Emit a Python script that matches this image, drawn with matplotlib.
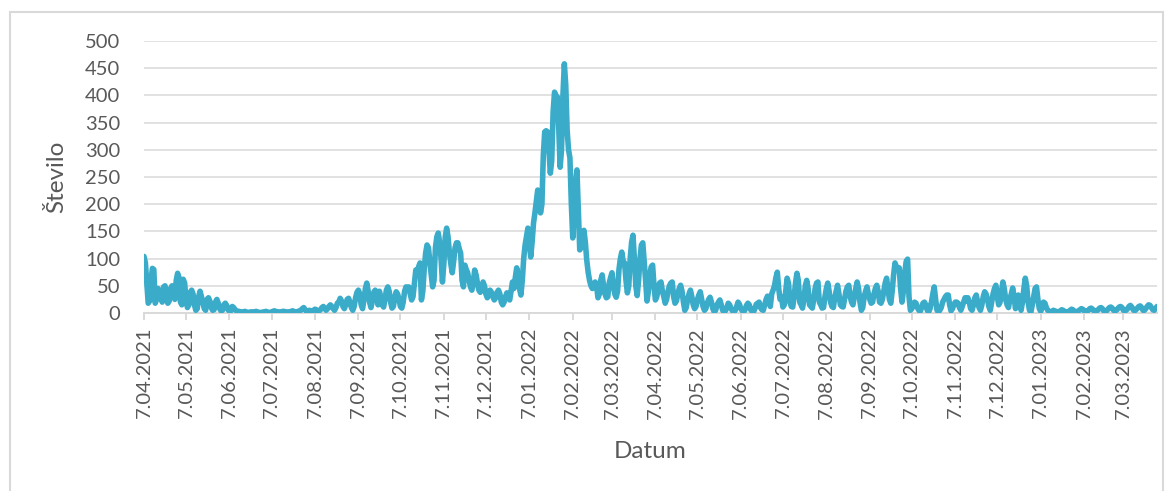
import pandas as pd
import matplotlib
matplotlib.use("Agg")
import matplotlib.pyplot as plt
from matplotlib.patches import Rectangle

# daily counts, first day 7.04.2021
spring_2021 = [
    104, 92, 55, 18, 22, 60, 82,
    80, 18, 25, 45, 38, 30, 20,
    48, 50, 35, 18, 22, 45, 50,
    40, 25, 60, 73, 65, 20, 15,
    62, 55, 25, 10, 15, 38, 42,
    35, 15, 5, 8, 30, 40, 30,
    20, 8, 5, 25, 28, 22, 10,
    5, 6, 20, 25, 18, 8, 4,
    5, 15, 18, 14, 6, 3, 4,
]
summer_2021 = [
    12, 10, 6, 4, 3, 3, 2,
    2, 2, 3, 2, 1, 1, 2,
    2, 1, 2, 3, 2, 1, 1,
    1, 2, 2, 3, 2, 1, 1,
    2, 3, 4, 3, 2, 1, 2,
    2, 3, 3, 2, 2, 1, 2,
    3, 4, 3, 2, 2, 3, 4,
    5, 8, 10, 6, 3, 3, 5,
    4, 3, 5, 7, 6, 3, 4,
]
autumn_2021 = [
    6, 10, 12, 8, 5, 8, 12,
    15, 12, 8, 5, 10, 18, 20,
    27, 22, 12, 8, 15, 25, 27,
    20, 10, 5, 12, 28, 38, 42,
    35, 15, 8, 25, 45, 55, 40,
    20, 10, 22, 38, 42, 35, 15,
    40, 30, 15, 11, 25, 42, 48,
    40, 20, 9, 12, 30, 39, 35,
    25, 12, 9, 20, 40, 48, 45,
    48, 35, 24, 30, 55, 79, 70,
    85, 92, 24, 40, 80, 110, 125,
    120, 95, 70, 48, 60, 120, 140,
    147, 130, 100, 57, 90, 140, 156,
    140, 110, 90, 74, 95, 120, 129,
    129, 118, 110, 60, 48, 88, 80,
    74, 60, 48, 42, 55, 79, 70,
    55, 42, 38, 45, 57, 50, 35,
    28, 32, 42, 38, 30, 24, 28,
    38, 42, 35, 20, 15, 20, 30,
]
winter_2022 = [
    37, 30, 24, 40, 57, 45, 65,
    83, 70, 45, 33, 60, 100, 125,
    140, 156, 130, 103, 130, 165, 184,
    205, 226, 215, 184, 200, 290, 333,
    335, 333, 300, 257, 280, 370, 406,
    400, 397, 340, 268, 300, 400, 458,
    420, 336, 300, 285, 200, 138, 180,
    240, 263, 190, 116, 120, 140, 152,
    130, 97, 75, 60, 50, 45, 52,
    57, 50, 28, 35, 60, 70, 50,
    35, 28, 30, 55, 65, 74, 50,
    35, 29, 40, 80, 100, 112, 95,
    92, 60, 37, 50, 100, 130, 143,
    100, 50, 32, 60, 100, 125, 129,
    95, 60, 22, 40, 70, 85, 88,
]
spring_2022 = [
    50, 24, 30, 45, 55, 57, 40,
    30, 18, 25, 40, 50, 55, 57,
    30, 18, 22, 35, 45, 51, 40,
    20, 5, 10, 25, 35, 42, 30,
    15, 8, 12, 25, 33, 39, 25,
    12, 5, 8, 18, 25, 29, 20,
    8, 2, 5, 15, 20, 24, 15,
    5, 2, 4, 10, 18, 15, 8,
    4, 2, 5, 12, 20, 16, 8,
    4, 2, 6, 14, 18, 15, 6,
    3, 2, 8, 16, 18, 20, 10,
    6, 5, 15, 25, 31, 28, 12,
]
summer_2022 = [
    35, 42, 50, 65, 75, 45, 25,
    30, 11, 15, 40, 64, 55, 20,
    12, 11, 30, 55, 73, 60, 20,
    15, 9, 25, 50, 60, 45, 15,
    12, 9, 25, 45, 55, 57, 20,
    15, 9, 10, 30, 45, 55, 40,
    20, 12, 10, 28, 40, 51, 35,
    15, 12, 11, 25, 40, 48, 51,
    30, 20, 15, 30, 45, 57, 45,
    20, 5, 10, 30, 40, 48, 35,
    25, 18, 20, 35, 45, 51, 40,
    20, 18, 25, 40, 55, 64, 45,
    25, 18, 40, 70, 92, 85, 83,
    83, 45, 20, 40, 75, 95, 99,
    30, 5, 8, 15, 20, 18, 10,
    5, 3, 10, 18, 20, 15, 5,
]
autumn_2022 = [
    2, 8, 20, 35, 48, 25, 5,
    2, 5, 10, 20, 25, 30, 33,
    33, 15, 4, 8, 15, 20, 20,
    18, 10, 5, 12, 20, 28, 22,
    28, 20, 8, 5, 15, 28, 33,
    20, 10, 5, 15, 30, 39, 35,
    25, 12, 5, 20, 35, 45, 51,
    30, 15, 20, 40, 57, 45, 25,
    15, 10, 25, 35, 46, 30, 8,
    20, 33, 20, 5, 20, 45, 64,
    50, 20, 5, 2, 15, 30, 45,
    48, 25, 8, 3, 10, 20, 18,
]
winter_2023 = [
    10, 5, 3, 2, 3, 5, 4,
    3, 2, 2, 4, 6, 5, 3,
    2, 2, 3, 5, 7, 6, 3,
    2, 3, 4, 6, 8, 7, 4,
    3, 3, 5, 8, 9, 7, 4,
    3, 4, 6, 9, 10, 8, 4,
    3, 4, 7, 10, 11, 9, 5,
    4, 5, 8, 11, 12, 10, 5,
    4, 5, 8, 12, 14, 11, 6,
    4, 6, 9, 12, 13, 10, 5,
    5, 8, 12, 15, 14, 10, 6,
    5, 8, 12,
]

tick_labels = [
    "7.04.2021", "7.05.2021", "7.06.2021", "7.07.2021", "7.08.2021",
    "7.09.2021", "7.10.2021", "7.11.2021", "7.12.2021", "7.01.2022",
    "7.02.2022", "7.03.2022", "7.04.2022", "7.05.2022", "7.06.2022",
    "7.07.2022", "7.08.2022", "7.09.2022", "7.10.2022", "7.11.2022",
    "7.12.2022", "7.01.2023", "7.02.2023", "7.03.2023",
]

values = (spring_2021 + summer_2021 + autumn_2021 + winter_2022
          + spring_2022 + summer_2022 + autumn_2022 + winter_2023)
dates = pd.date_range("2021-04-07", periods=len(values), freq="D")
tick_dates = pd.to_datetime(tick_labels, format="%d.%m.%Y")

plt.rcParams["font.family"] = ["Lato", "DejaVu Sans"]
grey = "#595959"

fig = plt.figure(figsize=(11.73, 4.91), dpi=100)
W, H = 1173, 491
ax = fig.add_axes([144 / W, 1 - 313 / H, (1157 - 144) / W, (313 - 41) / H])

ax.plot(dates, values, color="#3AABC8", lw=4.0,
        solid_joinstyle="round", solid_capstyle="round", zorder=3)

ax.set_ylim(0, 500)
ax.set_yticks(range(0, 501, 50))
ax.set_xlim(dates[0], dates[-1])
ax.set_xticks(tick_dates)
ax.set_xticklabels(tick_labels, rotation=90)

ax.grid(axis="y", color="#d9d9d9", lw=1.1)
ax.set_axisbelow(True)
for s in ["left", "right", "top"]:
    ax.spines[s].set_visible(False)
ax.spines["bottom"].set_color("#d9d9d9")
ax.spines["bottom"].set_linewidth(1.4)
ax.spines["bottom"].set_zorder(2)

ax.tick_params(axis="y", length=0, pad=17, labelsize=14.5, labelcolor=grey)
ax.tick_params(axis="x", length=5, width=1.4, color="#d9d9d9",
               pad=5, labelsize=14.5, labelcolor=grey)

fig.text(57 / W, 1 - 177 / H, "Število", rotation=90, ha="center",
         va="center", fontsize=17.5, color=grey)
fig.text(650 / W, 1 - 451 / H, "Datum", ha="center", va="center",
         fontsize=17.5, color=grey)

fig.patches.append(Rectangle((10 / W, -0.05), (1163 - 10) / W, 1.05 - 12 / H,
                             transform=fig.transFigure, fill=False,
                             edgecolor="#d9d9d9", lw=1.5))

fig.savefig("out.png", dpi=100)
